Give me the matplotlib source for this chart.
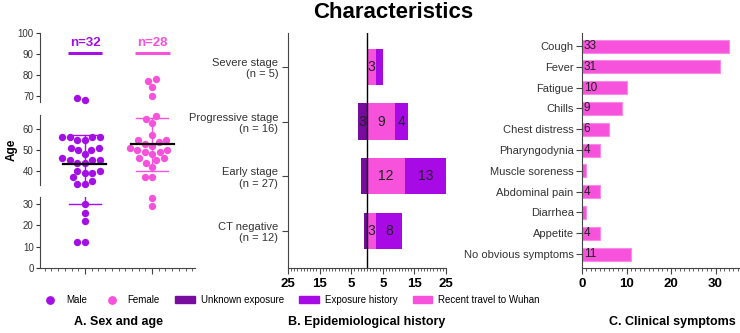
import numpy as np
import matplotlib.pyplot as plt
from matplotlib.lines import Line2D
from matplotlib.patches import Patch
from matplotlib.ticker import MultipleLocator

plt.rcParams['font.family'] = ['Liberation Sans', 'DejaVu Sans']

# ---- data ----
male_age = [69, 68, 55, 56, 56, 56, 55, 56, 51, 51, 50, 50, 48, 46, 45, 45,
            45, 44, 44, 39, 39, 40, 40, 37, 35, 34, 34, 30, 26, 22, 12, 12]
female_age = [78, 77, 74, 70, 66, 65, 63, 57, 55, 55, 54, 53, 52, 51, 50, 50,
              49, 49, 48, 46, 46, 45, 44, 42, 37, 37, 33, 29]
sex_groups = ['Male', 'Female']

stages = ['CT negative\n(n = 12)', 'Early stage\n(n = 27)',
          'Progressive stage\n(n = 16)', 'Severe stage\n(n = 5)']
unknown_exp = [1, 2, 3, 0]
travel_wuhan = [3, 12, 9, 3]
exposure_hist = [8, 13, 4, 2]
epi_ticks = [-25, -15, -5, 5, 15, 25]

symptoms = ['Cough', 'Fever', 'Fatigue', 'Chills', 'Chest distress',
            'Pharyngodynia', 'Muscle soreness', 'Abdominal pain', 'Diarrhea',
            'Appetite', 'No obvious symptoms']
symptom_n = [33, 31, 10, 9, 6, 4, 1, 4, 1, 4, 11]

# ---- colours ----
c_male = '#A30FE5'
c_female = '#F752DC'
c_unknown = '#780C9E'
c_exposure = '#A80AE6'
c_travel = '#F752DC'
c_axis = '#444444'

W, H = 740, 333
fig = plt.figure(figsize=(W / 100, H / 100), dpi=100)


def fbox(x0, y0, x1, y1):
    return [x0 / W, 1 - y1 / H, (x1 - x0) / W, (y1 - y0) / H]


def swarm(vals, d=7.4, ypx=2.1):
    # simple greedy beeswarm, offsets in pixels
    vals = np.asarray(vals, float)
    offs = np.zeros(len(vals))
    placed = []
    for i in np.argsort(vals):
        y = vals[i] * ypx
        cands = sorted(np.arange(-40, 40.01, 0.5), key=abs)
        for x in cands:
            if all((x - px) ** 2 + (y - py) ** 2 >= d * d for px, py in placed):
                offs[i] = x
                placed.append((x, y))
                break
    return offs


# ---- panel A: broken axis ----
segs = [(0, 33.3), (33.3, 66.7), (67, 100)]
ax_bot = fig.add_axes(fbox(40, 197, 195, 268))
ax_mid = fig.add_axes(fbox(40, 115, 195, 185))
ax_top = fig.add_axes(fbox(40, 33, 195, 102))
seg_axes = [ax_bot, ax_mid, ax_top]
seg_ticks = [[0, 10, 20, 30], [40, 50, 60], [70, 80, 90, 100]]
xpx = 67.0
for ax, lim, tk in zip(seg_axes, segs, seg_ticks):
    ax.set_ylim(*lim)
    ax.set_xlim(-0.67, 1.64)
    ax.set_facecolor('none')
    for s in ['top', 'right', 'bottom']:
        ax.spines[s].set_visible(False)
    ax.spines['left'].set_color(c_axis)
    ax.set_yticks(tk)
    ax.tick_params(axis='y', labelsize=7, colors='#333333', length=3, pad=1.5)
    ax.set_xticks([])
ax_bot.spines['bottom'].set_visible(True)
ax_bot.spines['bottom'].set_color(c_axis)
ax_bot.set_xticks([0, 1])
ax_bot.set_xticklabels([])
ax_bot.xaxis.set_minor_locator(MultipleLocator(0.1))
ax_bot.tick_params(axis='x', which='major', length=4, color=c_axis)
ax_bot.tick_params(axis='x', which='minor', length=2, color=c_axis)


def seg_index(v):
    return 0 if v < 33.3 else (1 if v < 66.7 else 2)


for gi, (ages, col) in enumerate([(male_age, c_male), (female_age, c_female)]):
    ages = np.asarray(ages, float)
    xs = gi + swarm(ages) / xpx
    for k, ax in enumerate(seg_axes):
        m = np.array([seg_index(v) == k for v in ages])
        ax.scatter(xs[m], ages[m], s=28, color=col, linewidths=0,
                   clip_on=False, zorder=2)
    mean = ages.mean()
    sd = ages.std(ddof=1)
    for ax in seg_axes:
        ax.plot([gi, gi], [mean - sd, mean + sd], color=col, lw=1, zorder=1)
    for v in (mean - sd, mean + sd):
        seg_axes[seg_index(v)].plot([gi - 0.24, gi + 0.24], [v, v], color=col,
                                    lw=1, clip_on=False, zorder=1)
    seg_axes[seg_index(mean)].plot([gi - 0.32, gi + 0.32], [mean, mean],
                                   color='black', lw=1.6, clip_on=False, zorder=3)
    ax_top.text(gi, 95.3, 'n=%d' % len(ages), color=col, fontsize=9.5,
                fontweight='bold', ha='center', va='center')
    ax_top.plot([gi - 0.26, gi + 0.26], [90.6, 90.6], color=col, lw=2.2,
                solid_capstyle='butt')

fig.text(12 / W, 1 - 150 / H, 'Age', rotation=90, fontsize=8.5,
         fontweight='bold', ha='center', va='center')

# ---- panel B: epidemiological history ----
axB = fig.add_axes(fbox(288, 33, 446, 268))
yB = np.arange(len(stages))
hB = 0.66
axB.barh(yB, [-u for u in unknown_exp], height=hB, color=c_unknown)
axB.barh(yB, travel_wuhan, height=hB, color=c_travel)
axB.barh(yB, exposure_hist, left=travel_wuhan, height=hB, color=c_exposure)
for y, u, t, e in zip(yB, unknown_exp, travel_wuhan, exposure_hist):
    if u >= 3:
        axB.text(-u / 2, y, str(u), ha='center', va='center', fontsize=10, color='#222222')
    if t >= 3:
        axB.text(t / 2, y, str(t), ha='center', va='center', fontsize=10, color='#222222')
    if e >= 3:
        axB.text(t + e / 2, y, str(e), ha='center', va='center', fontsize=10, color='#222222')
axB.axvline(0, color='black', lw=1)
axB.set_xlim(-25, 25)
axB.set_ylim(-0.68, 3.62)
axB.set_yticks(yB)
axB.set_yticklabels(stages, fontsize=8, color='#333333')
axB.set_xticks(epi_ticks)
axB.set_xticklabels([str(abs(t)) for t in epi_ticks], fontsize=9.5,
                    fontweight='bold')
axB.xaxis.set_minor_locator(MultipleLocator(1))
axB.tick_params(axis='x', which='major', length=4, color=c_axis, pad=3)
axB.tick_params(axis='x', which='minor', length=2, color=c_axis)
axB.tick_params(axis='y', length=4, color=c_axis, pad=3)
for s in ['top', 'right']:
    axB.spines[s].set_visible(False)
for s in ['left', 'bottom']:
    axB.spines[s].set_color(c_axis)

# ---- panel C: clinical symptoms ----
axC = fig.add_axes(fbox(582, 33, 740, 268))
yC = np.arange(len(symptoms))[::-1]
axC.barh(yC, symptom_n, height=0.63, color=c_travel, edgecolor='#FA8AE8', lw=0.8)
for y, v in zip(yC, symptom_n):
    if v > 1:
        axC.text(0.35, y, str(v), ha='left', va='center', fontsize=8.5, color='#222222')
axC.set_xlim(0, 35.5)
axC.set_ylim(-0.67, 10.63)
axC.set_yticks(yC)
axC.set_yticklabels(symptoms, fontsize=8, color='#333333')
axC.set_xticks([0, 10, 20, 30])
axC.set_xticklabels(['0', '10', '20', '30'], fontsize=9.5, fontweight='bold')
axC.xaxis.set_minor_locator(MultipleLocator(1))
axC.tick_params(axis='x', which='major', length=4, color=c_axis, pad=3)
axC.tick_params(axis='x', which='minor', length=2, color=c_axis)
axC.tick_params(axis='y', length=4, color=c_axis, pad=2)
for s in ['top', 'right']:
    axC.spines[s].set_visible(False)
for s in ['left', 'bottom']:
    axC.spines[s].set_color(c_axis)

# ---- legend, subtitles, title ----
handles = [
    Line2D([], [], ls='none', marker='o', markersize=5.3, color=c_male),
    Line2D([], [], ls='none', marker='o', markersize=5.3, color=c_female),
    Patch(color=c_unknown), Patch(color=c_exposure), Patch(color=c_travel),
]
labels = ['Male', 'Female', 'Unknown exposure', 'Exposure history',
          'Recent travel to Wuhan']
fig.legend(handles, labels, loc='center', bbox_to_anchor=(290 / W, 1 - 300 / H),
           ncol=5, frameon=False, fontsize=7, handlelength=2.0,
           handleheight=0.6, handletextpad=0.6, columnspacing=1.6)

sub_kw = dict(ha='center', va='center', fontsize=9, fontweight='bold')
fig.text(118 / W, 1 - 322 / H, 'A. Sex and age', **sub_kw)
fig.text(367 / W, 1 - 322 / H, 'B. Epidemiological history', **sub_kw)
fig.text(672 / W, 1 - 322 / H, 'C. Clinical symptoms', **sub_kw)
fig.text(393 / W, 1 - 13 / H, 'Characteristics', ha='center', va='center',
         fontsize=16, fontweight='bold')

fig.savefig('out.png', dpi=100)
